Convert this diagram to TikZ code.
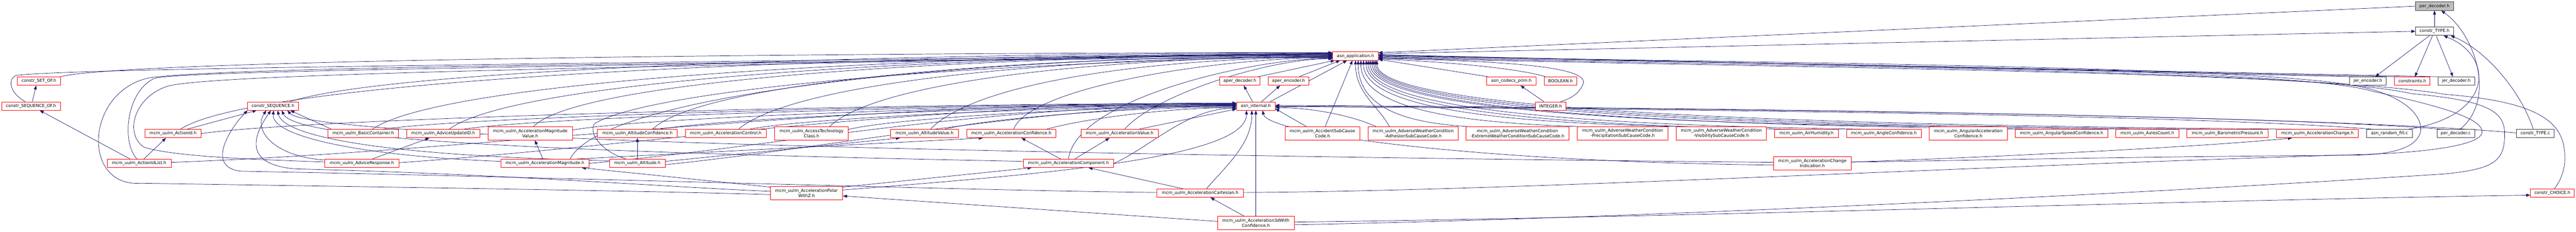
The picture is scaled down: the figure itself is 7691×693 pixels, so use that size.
\documentclass[tikz,border=0pt]{standalone}
\usepackage{fontspec}
\setmainfont{DejaVu Sans}
\usetikzlibrary{arrows.meta,calc}
\pgfdeclarelayer{bg}
\pgfsetlayers{bg,main}
\definecolor{mblue}{HTML}{191970}
\definecolor{nred}{HTML}{FF0000}
\definecolor{ngray}{HTML}{404040}
\newcommand\ec[6]{\draw[dep] let \p1=(#1), \p2=(#2) in (\p1) .. controls ({\x1+#3*(\x2-\x1)},{\y1+#4*(\y2-\y1)}) and ({\x2+#5*(\x1-\x2)},{\y2+#6*(\y1-\y2)}) .. (\p2);}
\newcommand\toAW[3]{\ec{[yshift=#2]aa.west}{#1}{0.4}{0}{#3}{0.7}}
\newcommand\toIW[3]{\ec{[yshift=#2]ai.west}{#1}{0.35}{0}{#3}{0.5}}
\newcommand\toAB[2]{\ec{[xshift=#2]aa.south}{#1}{0}{0.8}{0.45}{0.05}}
\newcommand\toIE[2]{\ec{[yshift=#2]ai.east}{#1}{0.4}{0.1}{0.15}{0.6}}
\tikzset{
 nb/.style={rectangle, inner sep=0pt, fill=white, line width=1.3pt, align=center, font=\fontsize{12.7pt}{15.2pt}\selectfont, minimum height=25pt},
 rn/.style={nb, draw=nred},
 kn/.style={nb, draw=ngray},
 gn/.style={nb, draw=ngray, fill=black!25},
 two/.style={minimum height=40pt},
 dep/.style={draw=mblue, line width=1.1pt, {Triangle[length=12pt,width=9pt]}-}
}
\begin{document}
\begin{tikzpicture}[x=1pt,y=-1pt]
\useasboundingbox (0,0) rectangle (7691,693);
% ---- rows A-E
\node[gn,minimum width=113pt] (pd) at (7268.5,18.5) {per\_decoder.h};
\node[kn,minimum width=113pt] (ct) at (7268.5,93.5) {constr\_TYPE.h};
\node[rn,minimum width=136pt] (aa) at (4047,167.5) {asn\_application.h};
\node[rn,minimum width=128pt] (cso) at (116,242.5) {constr\_SET\_OF.h};
\node[rn,minimum width=121pt] (ad) at (3701.5,242.5) {aper\_decoder.h};
\node[rn,minimum width=122pt] (ae) at (3847,242.5) {aper\_encoder.h};
\node[rn,minimum width=147pt] (acp) at (4512.5,242.5) {asn\_codecs\_prim.h};
\node[rn,minimum width=98pt] (bo) at (4659,242.5) {BOOLEAN.h};
\node[kn,minimum width=109pt] (je) at (7069.5,242.5) {jer\_encoder.h};
\node[rn,minimum width=106pt] (cs) at (7202,242.5) {constraints.h};
\node[kn,minimum width=109pt] (jd) at (7333.5,242.5) {jer\_decoder.h};
\node[rn,minimum width=175pt] (csqo) at (92.5,317) {constr\_SEQUENCE\_OF.h};
\node[rn,minimum width=152pt] (csq) at (815,317) {constr\_SEQUENCE.h};
\node[rn,minimum width=115pt] (ai) at (3749.5,317) {asn\_internal.h};
\node[rn,minimum width=91pt] (int) at (4629.5,317) {INTEGER.h};
% ---- row F
\node[rn,minimum width=167pt] (aid) at (516.5,399.5) {mcm\_uulm\_ActionId.h};
\node[rn,minimum width=211pt] (bc) at (1084.5,399.5) {mcm\_uulm\_BasicContainer.h};
\node[rn,minimum width=218pt] (aui) at (1323,399.5) {mcm\_uulm\_AdviceUpdateID.h};
\node[rn,two,minimum width=252pt] (amv) at (1583,399) {mcm\_uulm\_AccelerationMagnitude\\Value.h};
\node[rn,minimum width=238pt] (altc) at (1903,399.5) {mcm\_uulm\_AltitudeConfidence.h};
\node[rn,minimum width=242pt] (acc) at (2167,399.5) {mcm\_uulm\_AccelerationControl.h};
\node[rn,two,minimum width=220pt] (atc) at (2423,399) {mcm\_uulm\_AccessTechnology\\Class.h};
\node[rn,minimum width=202pt] (altv) at (2760,399.5) {mcm\_uulm\_AltitudeValue.h};
\node[rn,minimum width=267pt] (acf) at (3019.5,399.5) {mcm\_uulm\_AccelerationConfidence.h};
\node[rn,minimum width=231pt] (av) at (3342.5,399.5) {mcm\_uulm\_AccelerationValue.h};
\node[rn,two,minimum width=223pt] (asc) at (3948.5,399) {mcm\_uulm\_AccidentSubCause\\Code.h};
\node[rn,two,minimum width=270pt] (awa) at (4219,399) {mcm\_uulm\_AdverseWeatherCondition\\-AdhesionSubCauseCode.h};
\node[rn,two,minimum width=307pt] (awe) at (4530.5,399) {mcm\_uulm\_AdverseWeatherCondition\\-ExtremeWeatherConditionSubCauseCode.h};
\node[rn,two,minimum width=271pt] (awp) at (4844.5,399) {mcm\_uulm\_AdverseWeatherCondition\\-PrecipitationSubCauseCode.h};
\node[rn,two,minimum width=270pt] (awv) at (5139,399) {mcm\_uulm\_AdverseWeatherCondition\\-VisibilitySubCauseCode.h};
\node[rn,minimum width=191pt] (ah) at (5393.5,399.5) {mcm\_uulm\_AirHumidity.h};
\node[rn,minimum width=223pt] (anc) at (5624.5,399.5) {mcm\_uulm\_AngleConfidence.h};
\node[rn,two,minimum width=233pt] (aac) at (5876.5,399) {mcm\_uulm\_AngularAcceleration\\Confidence.h};
\node[rn,minimum width=276pt] (asp) at (6155,399.5) {mcm\_uulm\_AngularSpeedConfidence.h};
\node[rn,minimum width=188pt] (axc) at (6411,399.5) {mcm\_uulm\_AxlesCount.h};
\node[rn,minimum width=243pt] (bp) at (6650.5,399.5) {mcm\_uulm\_BarometricPressure.h};
\node[rn,minimum width=244pt] (ach) at (6919,399.5) {mcm\_uulm\_AccelerationChange.h};
\node[kn,minimum width=136pt] (arf) at (7134,399.5) {asn\_random\_fill.c};
\node[kn,minimum width=112pt] (pdc) at (7332,399.5) {per\_decoder.c};
\node[kn,minimum width=113pt] (ctc) at (7569.5,399.5) {constr\_TYPE.c};
% ---- row G
\node[rn,minimum width=191pt] (ail) at (415.5,488.5) {mcm\_uulm\_ActionIdList.h};
\node[rn,minimum width=221pt] (ar) at (1080.5,488.5) {mcm\_uulm\_AdviceResponse.h};
\node[rn,minimum width=264pt] (am) at (1627,488.5) {mcm\_uulm\_AccelerationMagnitude.h};
\node[rn,minimum width=166pt] (alt) at (1903,488.5) {mcm\_uulm\_Altitude.h};
\node[rn,minimum width=270pt] (acomp) at (3190,488.5) {mcm\_uulm\_AccelerationComponent.h};
\node[rn,two,minimum width=232pt] (aci) at (5411,488.5) {mcm\_uulm\_AccelerationChange\\Indication.h};
% ---- rows H, I
\node[rn,two,minimum width=216pt] (apz) at (2408,578) {mcm\_uulm\_AccelerationPolar\\WithZ.h};
\node[rn,minimum width=258pt] (acart) at (3583,577.5) {mcm\_uulm\_AccelerationCartesian.h};
\node[rn,minimum width=131pt] (cch) at (7620.5,577.5) {constr\_CHOICE.h};
\node[rn,two,minimum width=229pt] (a3d) at (3749.5,667) {mcm\_uulm\_Acceleration3dWith\\Confidence.h};

\begin{pgfonlayer}{bg}
\fill[white] (0,0) rectangle (7691,693);
% ---- root area
\draw[dep] (pd.south) -- (ct.north);
\draw[dep] ([xshift=20pt]pd.south) .. controls +(100,70) and +(110,-90) .. ([xshift=13pt]pdc.north);
\draw[dep] (ct.west) -- ([yshift=7pt]aa.east);
\draw[dep] ([yshift=10pt]aa.east) -- (pd.west);
\draw[dep] ([xshift=22pt]je.north) -- ([xshift=-15pt]ct.south);
\draw[dep] ([xshift=8pt]cs.north) -- ([xshift=-6pt]ct.south);
\draw[dep] ([xshift=-10pt]jd.north) -- ([xshift=5pt]ct.south);
\draw[dep] ([xshift=27pt]ct.south) .. controls +(150,60) and +(260,-40) .. ([xshift=56pt]arf.north);
\draw[dep] ([xshift=48pt]ct.south) .. controls +(100,40) and +(-40,-120) .. ([xshift=-6pt]ctc.north);
% ---- into asn_application east
\draw[dep] ([yshift=4pt]aa.east) -- ([xshift=-45pt]je.north);
\draw[dep] ([yshift=3pt]aa.east) -- (cs.north west);
\draw[dep] ([yshift=2pt]aa.east) -- (jd.north west);
\draw[dep] ([yshift=-10pt]aa.east) -- ([xshift=-70pt]acp.north);
\draw[dep] ([yshift=-9pt]aa.east) .. controls +(200,8) and +(-80,-25) .. ([xshift=-45pt]bo.north);
\draw[dep] ([yshift=-7pt]aa.east) .. controls (4450,182) and (4745,195) .. (4727,250) .. controls (4715,280) and (4690,295) .. ([xshift=30pt]int.north);
\draw[dep] ([yshift=0pt]aa.east) .. controls (5500,190) and (6800,200) .. (7060,262) .. controls (7180,290) and (7240,350) .. (7225,400) .. controls (7210,440) and (7150,462) .. (7030,464) .. controls (6200,470) and (5800,482) .. ([yshift=4pt]aci.east);
\draw[dep] ([yshift=-2pt]aa.east) .. controls (5500,195) and (6850,205) .. (7080,272) .. controls (7250,310) and (7420,350) .. (7410,398) .. controls (7400,440) and (7200,458) .. (7050,462) .. controls (5800,500) and (4500,572) .. ([yshift=2pt]acart.east);
\draw[dep] ([yshift=-4pt]aa.east) .. controls (5500,200) and (6900,212) .. (7200,280) .. controls (7420,300) and (7478,330) .. (7478,400) .. controls (7478,480) and (7450,505) .. (7300,520) .. controls (6300,585) and (4800,655) .. ([yshift=-5pt]a3d.east);
\draw[dep] ([yshift=-6pt]aa.east) .. controls (5500,205) and (6900,215) .. (7300,282) .. controls (7520,300) and (7640,340) .. (7655,440) .. controls (7665,500) and (7645,540) .. ([xshift=6pt]cch.north);
% ---- small hub edges
\draw[dep] ([xshift=27pt]acp.south) -- ([xshift=-20pt]int.north);
\draw[dep] ([xshift=12pt]ad.south) -- ([xshift=-10pt]ai.north);
\draw[dep] ([xshift=-25pt]ae.south) -- ([xshift=17pt]ai.north);
\draw[dep] ([xshift=-62pt]aa.south) -- ([xshift=55pt]ad.north);
\draw[dep] ([xshift=-46pt]aa.south) -- ([xshift=32pt]ae.north);
\draw[dep] ([xshift=-25pt]aa.south) -- ([xshift=43pt]ai.north);
\draw[dep] ([xshift=-8pt]cso.south) -- ([xshift=4pt]csqo.north);
\draw[dep] ([xshift=26pt]csqo.south) -- ([xshift=-27pt]ail.north);
\draw[dep] ([xshift=-21pt]aid.south) -- ([xshift=14pt]ail.north);
\draw[dep] ([xshift=-41pt]aui.south) -- ([xshift=31pt]ar.north);
\draw[dep] ([xshift=14pt]amv.south) -- ([xshift=-6pt]am.north);
\draw[dep] ([xshift=-85pt]acf.south) -- ([xshift=95pt]am.north);
\draw[dep] (altc.south) -- (alt.north);
\draw[dep] ([xshift=-73pt]altv.south) -- ([yshift=6pt]alt.east);
\draw[dep] ([xshift=-30pt]av.south) -- ([xshift=19pt]acomp.north);
\draw[dep] ([xshift=30pt]acf.south) -- ([xshift=-23pt]acomp.north);
\draw[dep] ([xshift=110pt]am.south) -- ([yshift=-2pt]apz.north west);
\draw[dep] ([xshift=-110pt]acomp.south) -- ([yshift=-2pt]apz.north east);
\draw[dep] ([xshift=60pt]acomp.south) -- ([xshift=-51pt]acart.north);
\draw[dep] ([xshift=31pt]acart.south) -- ([xshift=-35pt]a3d.north);
\draw[dep] (ai.south) -- (a3d.north);
\draw[dep] ([yshift=-8pt]apz.east) -- ([yshift=5pt]a3d.west);
\draw[dep] ([yshift=-6pt]cch.west) .. controls (6500,600) and (5000,650) .. ([yshift=3pt]a3d.east);
\draw[dep] ([xshift=-12pt]ai.south) .. controls +(0,100) and +(60,-70) .. ([xshift=19pt]acart.north);
\ec{[xshift=-28pt]ai.south}{[yshift=10pt]apz.east}{0}{0.6}{0.5}{0.2}
\draw[dep] ([xshift=-76pt]ach.south) .. controls +(-300,30) and +(300,-10) .. ([yshift=4pt]aci.east);
\draw[dep] ([xshift=20pt]ai.south) .. controls +(15,70) and +(-900,-10) .. ([yshift=-5pt]aci.west);
% ---- into constr_SEQUENCE
\draw[dep] ([xshift=-49pt]csq.south) -- ([xshift=42pt]aid.north);
\draw[dep] ([xshift=52pt]csq.south) -- ([xshift=-95pt]bc.north);
\draw[dep] ([xshift=-20pt]csq.south) .. controls +(-40,60) and +(-150,-10) .. ([yshift=10pt]ar.west);
\draw[dep] ([xshift=2pt]csq.south) .. controls +(-10,80) and +(-400,-15) .. ([yshift=6pt]am.west);
\draw[dep] ([xshift=14pt]csq.south) .. controls +(15,75) and +(-700,-15) .. ([yshift=8pt]alt.west);
\draw[dep] ([xshift=26pt]csq.south) .. controls +(40,85) and +(-1500,-30) .. ([yshift=6pt]acomp.west);
\draw[dep] ([xshift=43pt]csq.south) .. controls +(70,80) and +(-2500,-25) .. ([yshift=3pt]aci.west);
\draw[dep] ([xshift=-6pt]csq.south) .. controls (760,400) and (720,490) .. (880,505) .. controls (1500,520) and (2000,560) .. ([yshift=6pt]apz.west);
\draw[dep] ([xshift=-76pt]csq.south) .. controls (690,380) and (610,500) .. (720,512) .. controls (1600,528) and (2900,570) .. ([yshift=2pt]acart.west);
% ---- into asn_application west (left sources)
\toAW{cso.north east}{10pt}{0.05}
\draw[dep] ([yshift=9pt]aa.west) .. controls (2000,190) and (300,200) .. (50,225) .. controls (20,235) and (30,280) .. ([xshift=-17pt]csqo.north);
\draw[dep] ([yshift=8pt]aa.west) .. controls (1800,198) and (560,210) .. (462,234) .. controls (380,270) and (360,420) .. ([xshift=-7pt]ail.north);
\draw[dep] ([yshift=7pt]aa.west) .. controls (1800,200) and (620,222) .. (500,258) .. controls (400,290) and (370,400) .. (430,440) .. controls (520,470) and (800,478) .. ([yshift=4pt]ar.west);
\toAW{[xshift=22pt]aid.north}{6pt}{0.07}
\toAW{[xshift=27pt]bc.north}{5pt}{0.08}
\toAW{[xshift=18pt]aui.north}{4pt}{0.08}
\toAW{[xshift=10pt]amv.north}{3pt}{0.06}
\toAW{[xshift=75pt]am.north}{2pt}{0.05}
\toAW{[xshift=45pt]altc.north}{1pt}{0.08}
\draw[dep] ([yshift=0pt]aa.west) .. controls (2600,195) and (1900,290) .. (1775,370) .. controls (1755,400) and (1800,455) .. ([xshift=-34pt]alt.north);
\toAW{[xshift=38pt]acc.north}{-1pt}{0.1}
\toAW{[xshift=54pt]atc.north}{-2pt}{0.1}
\draw[dep] ([yshift=-3pt]aa.west) .. controls (2000,188) and (700,200) .. (450,232) .. controls (255,268) and (240,560) .. (420,548) .. controls (1200,560) and (2000,572) .. ([yshift=-4pt]apz.west);
\toAW{[xshift=18pt]altv.north}{-4pt}{0.12}
\ec{[yshift=-5pt]aa.west}{[xshift=7pt]acf.north}{0.35}{0}{0.05}{0.6}
\ec{[yshift=-8pt]aa.west}{[xshift=15pt]av.north}{0.3}{0}{0.15}{0.5}
\ec{[yshift=-7pt]aa.west}{acomp.north}{0.3}{0}{0.03}{0.6}
\toAW{[xshift=51pt]csq.north}{9pt}{0.1}
% ---- into asn_internal west (left sources)
\ec{[yshift=9pt]ai.west}{[yshift=3pt]ail.east}{0.4}{0}{0.3}{0.2}
\toIW{aid.east}{8pt}{0.1}
\toIW{[xshift=60pt]bc.north}{7pt}{0.1}
\ec{[yshift=6pt]ai.west}{[yshift=2pt]ar.east}{0.4}{0}{0.3}{0.3}
\toIW{[xshift=61pt]aui.north}{5pt}{0.1}
\toIW{[yshift=10pt]amv.east}{4pt}{0.1}
\ec{[yshift=3pt]ai.west}{am.east}{0.4}{0}{0.3}{0.3}
\toIW{[xshift=67pt]altc.north}{2pt}{0.12}
\ec{[yshift=1pt]ai.west}{[yshift=-4pt]alt.east}{0.35}{0}{0.3}{0.3}
\toIW{[xshift=71pt]acc.north}{0pt}{0.12}
\toIW{[yshift=12pt]atc.east}{-1pt}{0.12}
\toIW{[xshift=60pt]altv.north}{-3pt}{0.15}
\toIW{[xshift=105pt]acf.north}{-5pt}{0.2}
\draw[dep] ([yshift=-9pt]ai.west) -- ([xshift=58pt]av.north);
\ec{[yshift=-7pt]ai.west}{acomp.east}{0.4}{0}{0.3}{0.3}
% ---- right side sources
\draw[dep] ([xshift=-9pt]aa.south) -- ([xshift=8pt]asc.north);
\ec{[xshift=0pt]aa.south}{[xshift=-71pt]awa.north}{0}{0.5}{0.3}{0.3}
\toAB{[xshift=-150pt]awe.north}{8pt}
\toAB{[xshift=-133pt]awp.north}{16pt}
\toAB{[xshift=-133pt]awv.north}{24pt}
\toAB{[xshift=-50pt]ah.north}{32pt}
\toAB{[xshift=-63pt]anc.north}{38pt}
\toAB{[xshift=-110pt]aac.north}{44pt}
\toAB{[xshift=-75pt]asp.north}{50pt}
\toAB{[xshift=-53pt]axc.north}{55pt}
\toAB{[xshift=-64pt]bp.north}{60pt}
\toAB{[xshift=-67pt]ach.north}{64pt}
\draw[dep] ([yshift=-8pt]ai.east) -- ([xshift=-48pt]asc.north);
\ec{[yshift=-5pt]ai.east}{[xshift=-111pt]awa.north}{0.4}{0}{0.2}{0.5}
\toIE{[xshift=-50pt]arf.north}{-2pt}
\toIE{[xshift=-40pt]pdc.north}{0pt}
\toIE{[yshift=2pt]ctc.west}{2pt}
\end{pgfonlayer}
\end{tikzpicture}
\end{document}
